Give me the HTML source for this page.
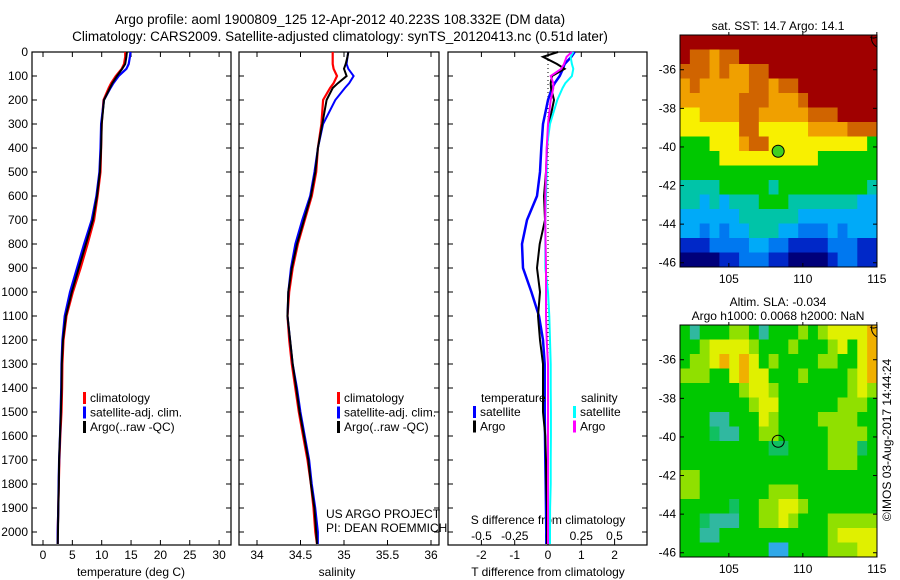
<!DOCTYPE html>
<html><head><meta charset="utf-8"><style>
body{margin:0;background:#fff;width:900px;height:580px;overflow:hidden}
svg{display:block;font-family:"Liberation Sans",sans-serif}
</style></head><body>
<svg id="s" width="900" height="580"></svg>
<script>
const depths=[0,20,50,70,100,130,150,200,300,400,500,600,700,800,900,1000,1100,1200,1300,1400,1500,1600,1700,1800,1900,2000,2050];
const tempArgo=[14.3,14.2,14.0,13.5,12.6,11.8,11.4,10.4,10.0,9.9,9.7,9.2,8.5,7.3,6.1,4.9,3.9,3.4,3.2,3.15,3.05,2.9,2.75,2.7,2.6,2.55,2.5];
const tempClim=[14.0,14.0,13.8,13.4,12.4,11.6,11.2,10.3,10.0,9.9,9.8,9.3,8.7,7.6,6.4,5.1,4.0,3.5,3.3,3.25,3.15,2.95,2.8,2.7,2.6,2.5,2.5];
const tempSat=[14.9,14.8,14.6,14.2,12.9,12.0,11.5,10.4,9.9,9.8,9.6,9.1,8.3,7.0,5.8,4.6,3.7,3.3,3.15,3.1,3.0,2.9,2.75,2.65,2.6,2.5,2.5];
const salArgo=[35.05,35.04,35.02,35.00,35.03,34.93,34.87,34.80,34.75,34.70,34.67,34.62,34.54,34.46,34.40,34.36,34.35,34.38,34.41,34.45,34.49,34.54,34.59,34.62,34.66,34.68,34.69];
const salClim=[34.87,34.87,34.87,34.88,34.92,34.88,34.84,34.76,34.74,34.70,34.68,34.63,34.55,34.47,34.41,34.37,34.35,34.37,34.40,34.44,34.48,34.53,34.58,34.62,34.65,34.67,34.69];
const salSat=[35.05,35.04,35.03,35.05,35.11,35.06,35.01,34.90,34.76,34.70,34.66,34.61,34.52,34.44,34.39,34.36,34.35,34.38,34.41,34.46,34.50,34.55,34.60,34.63,34.67,34.70,34.70];
const dTsat=[0.8,0.7,0.5,0.45,0.35,0.2,0.12,0,-0.15,-0.2,-0.24,-0.33,-0.63,-0.78,-0.75,-0.5,-0.27,-0.15,-0.1,-0.1,-0.1,-0.09,-0.08,-0.07,-0.06,-0.05,-0.05];
const dTargo=[0.3,-0.15,0.27,0.5,0.12,0.08,0.09,0.18,0.03,-0.03,-0.06,-0.12,-0.09,-0.25,-0.33,-0.24,-0.3,-0.24,-0.15,-0.15,-0.15,-0.08,-0.06,-0.05,-0.03,-0.03,-0.03];
const dSsat=[0.19,0.17,0.18,0.19,0.18,0.13,0.11,0.07,0.015,-0.01,-0.01,-0.015,-0.02,-0.02,-0.02,0,0.01,0.015,0.02,0.02,0.022,0.022,0.02,0.02,0.016,0.015,0.015];
const dSargo=[0.18,0.14,0.12,0.1,0.02,0.04,0.04,0.02,0,-0.01,-0.015,-0.02,-0.02,-0.018,-0.015,-0.015,-0.015,-0.01,0,0,0,0,0,0,0,0,0];
const depthTicks=[0,100,200,300,400,500,600,700,800,900,1000,1100,1200,1300,1400,1500,1600,1700,1800,1900,2000];
const tempTicks=[0,5,10,15,20,25,30];
const salTicks=[34,34.5,35,35.5,36];
const tdTicks=[-2,-1,0,1,2];
const sdTicks=[-0.5,-0.25,0,0.25,0.5];
const sdTickLabels=["-0.5","-0.25","0","0.25","0.5"];
const latTicks=[-36,-38,-40,-42,-44,-46];
const lonTicks=[105,110,115];
const argoLon=108.332, argoLat=-40.223;
const sstGrid=["AAAAAAAAAAAAAAAAAAAA","A99899AAAAAAAAAAAAAA","999898899AAAAAAAAAAA","898888899899AAAAAAAA","8888889998889AAAAAAA","7788889988888999AAAA","77777799777778888999","55577789977777777775","55557777777777555555","55555555555555555555","44445555545555555554","44343444555444444433","33333344444433333333","33232334443322232333","11122223322111122211","00001122211000012211"];
const slaGrid=["31333443133343455556","33455554333433345356","34456565343333443356","44433565533343333456","33333345543333333454","33333334553333334443","33311333543333444433","33321133443333344443","33333333322333344423","33333333333333344433","44333333333333333333","44333333344433333333","33333233445543333333","33211133445433344444","33113333333333345555","33333333300333344455"];
const sstColors={"0":"#00007a","1":"#0028c8","2":"#0078f0","3":"#00aaf8","4":"#00c4a8","5":"#00c800","6":"#a8e000","7":"#f8f000","8":"#f0a000","9":"#d06400","A":"#a00000"};
const slaColors=["#30a8e8","#30b8a0","#10c060","#00c800","#90e000","#e0f000","#f0b000"];

const S=document.getElementById('s');const NS='http://www.w3.org/2000/svg';
function mk(t,a,p){const e=document.createElementNS(NS,t);for(const k in a)e.setAttribute(k,a[k]);(p||S).appendChild(e);return e;}
function txt(x,y,s,anchor,size,name){const e=mk('text',{x:x,y:y,'font-size':size||12,'text-anchor':anchor||'start',fill:'#000'});e.textContent=s;

return e;}
const Y=d=>52+d*0.24;
const t1=txt(340,24,"Argo profile: aoml 1900809_125 12-Apr-2012 40.223S 108.332E (DM data)","middle",13.5);

const t2=txt(340,41,"Climatology: CARS2009. Satellite-adjusted climatology: synTS_20120413.nc (0.51d later)","middle",13.5);


function panel(x0,x1,name){const g=mk('g',{});


mk('rect',{x:x0,y:52,width:x1-x0,height:493,fill:'none',stroke:'#000','stroke-width':1.2},g);
depthTicks.forEach(d=>{mk('line',{x1:x0,x2:x0+5,y1:Y(d),y2:Y(d),stroke:'#000'},g);mk('line',{x1:x1-5,x2:x1,y1:Y(d),y2:Y(d),stroke:'#000'},g);});
return g;}
function xticks(g,ticks,X,labels,ly){ticks.forEach((v,i)=>{const x=X(v);mk('line',{x1:x,x2:x,y1:52,y2:57,stroke:'#000'},g);mk('line',{x1:x,x2:x,y1:540,y2:545,stroke:'#000'},g);
const l=txt(x,ly,labels?labels[i]:String(v),'middle',12,'x-tick-label');g.appendChild(l);});}
function series(g,vals,X,color,w,name){const p=mk('path',{d:vals.map((v,i)=>(i?'L':'M')+X(v).toFixed(1)+','+Y(depths[i]).toFixed(1)).join(''),fill:'none',stroke:color,'stroke-width':w},g);

}
function legend(g,x,y,items){items.forEach((it,i)=>{mk('rect',{x:x,y:y+i*14.5-10,width:3,height:12,fill:it[1]},g);g.appendChild(txt(x+7,y+i*14.5,it[0],'start',12,'legend-entry'));});}

depthTicks.forEach(d=>txt(28,Y(d)+4,String(d),'end',12,'y-tick-label'));
const TX=v=>43+v*5.87;
const g1=panel(32,231,'temperature-panel');
xticks(g1,tempTicks,TX,null,559);
g1.appendChild(txt(131,576,"temperature (deg C)","middle",12,'x-axis-title'));
series(g1,tempClim,TX,'#f00',2.2,'temp-climatology-line');
series(g1,tempSat,TX,'#00f',2.2,'temp-satellite-line');
series(g1,tempArgo,TX,'#000',2,'temp-argo-line');
legend(g1,83,402,[["climatology","#f00"],["satellite-adj. clim.","#00f"],["Argo(..raw -QC)","#000"]]);
const SX=v=>257+(v-34)*87;
const g2=panel(239,439,'salinity-panel');
xticks(g2,salTicks,SX,null,559);
g2.appendChild(txt(337,576,"salinity","middle",12,'x-axis-title'));
series(g2,salClim,SX,'#f00',2.2,'sal-climatology-line');
series(g2,salSat,SX,'#00f',2,'sal-satellite-line');
series(g2,salArgo,SX,'#000',2,'sal-argo-line');
legend(g2,337,402,[["climatology","#f00"],["satellite-adj. clim.","#00f"],["Argo(..raw -QC)","#000"]]);
g2.appendChild(txt(326,518,"US ARGO PROJECT","start",12,'project-credit'));
g2.appendChild(txt(326,532,"PI: DEAN ROEMMICH","start",12,'pi-credit'));
const DTX=v=>548+v*33.3, DSX=v=>548+v*133;
const g3=panel(448,647,'difference-panel');
mk('line',{x1:548,x2:548,y1:52,y2:545,stroke:'#000','stroke-dasharray':'1,3'},g3);
xticks(g3,tdTicks,DTX,null,559);
sdTicks.forEach((v,i)=>g3.appendChild(txt(DSX(v),540,sdTickLabels[i],'middle',12,'s-diff-tick-label')));
g3.appendChild(txt(548,524,"S difference from climatology","middle",12,'s-diff-axis-title'));
g3.appendChild(txt(548,576,"T difference from climatology","middle",12,'t-diff-axis-title'));
series(g3,dTsat,DTX,'#00f',2.5,'tdiff-satellite-line');
series(g3,dTargo,DTX,'#000',2,'tdiff-argo-line');
series(g3,dSsat,DSX,'#0ff',2,'sdiff-satellite-line');
series(g3,dSargo,DSX,'#f0f',2,'sdiff-argo-line');
g3.appendChild(txt(481,402,"temperature","start",12,'legend-title'));
g3.appendChild(txt(581,402,"salinity","start",12,'legend-title'));
legend(g3,473,416,[["satellite","#00f"],["Argo","#000"]]);
legend(g3,573,416,[["satellite","#0ff"],["Argo","#f0f"]]);

const LX=v=>680+(v-101.7)*14.8;
function map(y0,grid,colorOf,name,dotFill,titles){const g=mk('g',{});


const LY=v=>y0+(-34.2-v)*19.3;
const rows=grid.length,cols=grid[0].length,cw=197/cols,ch=232/rows;
grid.forEach((r,i)=>{for(let j=0;j<cols;j++){const c=mk('rect',{x:(680+j*cw).toFixed(2),y:(y0+i*ch).toFixed(2),width:(cw+0.5).toFixed(2),height:(ch+0.5).toFixed(2),fill:colorOf(r[j])},g);

}});
mk('rect',{x:680,y:y0,width:197,height:232,fill:'none',stroke:'#000'},g);
latTicks.forEach(v=>{const y=LY(v);mk('line',{x1:680,x2:684,y1:y,y2:y,stroke:'#000'},g);mk('line',{x1:873,x2:877,y1:y,y2:y,stroke:'#000'},g);g.appendChild(txt(676,y+4,String(v),'end',12,'lat-tick-label'));});
lonTicks.forEach(v=>{const x=LX(v);mk('line',{x1:x,x2:x,y1:y0-3,y2:y0,stroke:'#000'},g);mk('line',{x1:x,x2:x,y1:y0+228,y2:y0+232,stroke:'#000'},g);g.appendChild(txt(x,y0+248,String(v),'middle',12,'lon-tick-label'));});
mk('path',{d:`M877,${y0+2} A8,10 0 0 1 870,${y0+2} M872,${y0} Q870,${y0+8} 877,${y0+12}`,fill:'none',stroke:'#000'},g);
const dot=mk('circle',{cx:LX(argoLon),cy:LY(argoLat),r:6,fill:dotFill,stroke:'#000'},g);


titles.forEach((t,i)=>g.appendChild(txt(778,y0-(titles.length-i)*14+9,t,'middle',12,'map-title')));
}
map(35,sstGrid,c=>sstColors[c],'sst-map','#40d020',["sat. SST: 14.7 Argo: 14.1"]);
map(325,slaGrid,c=>slaColors[+c],'sla-map','none',["Altim. SLA: -0.034","Argo h1000: 0.0068 h2000: NaN"]);
const ts=txt(0,0,"©IMOS 03-Aug-2017 14:44:24","middle",12,'timestamp');
ts.setAttribute('transform','translate(891,440) rotate(-90)');
</script>
</body></html>
